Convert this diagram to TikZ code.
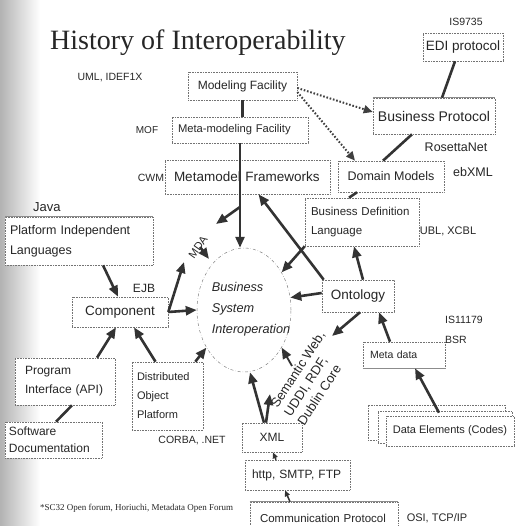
\documentclass[tikz,border=0pt]{standalone}
\usepackage{fontspec}
\setmainfont{Liberation Serif}
\setsansfont{Liberation Sans}
\usetikzlibrary{arrows.meta,shapes.geometric}
\newcommand{\fs}[2]{\fontsize{#1}{#2}\selectfont}
\begin{document}
\begin{tikzpicture}[x=1pt,y=-1pt,
  every node/.style={font=\sffamily, text=black!85},
  box/.style={draw=black!55, densely dotted, line width=0.6pt, fill=white, inner sep=0pt},
  lbl/.style={inner sep=0pt, font=\sffamily\fs{10.5}{12}},
  link/.style={draw=black!80, line width=2.6pt, -{Triangle[length=11pt,width=9pt]}},
  smalllink/.style={draw=black!80, line width=1.5pt, -{Triangle[length=6pt,width=5pt]}},
  bar/.style={draw=black!80, line width=2.6pt},
  hint/.style={draw=black!75, line width=2pt, dash pattern=on 1.6pt off 1.8pt, -{Triangle[length=9pt,width=8pt]}},
  edge/.style={draw=black!45, line width=0.8pt}
]
\useasboundingbox (0,0) rectangle (515,526);

% faded strip down the left margin
\shade[left color=black!30, right color=white] (0,0) rectangle (40,526);

% title and footnote
\node[anchor=base west, inner sep=0pt, font=\rmfamily\fs{28}{30}] (title) at (50,50) {History of Interoperability};
\node[anchor=base west, inner sep=0pt, font=\rmfamily\fs{9}{10}] (note) at (40,510) {*SC32 Open forum, Horiuchi, Metadata Open Forum};

% modelling stack
\node[box, minimum width=109, minimum height=28, font=\sffamily\fs{12}{14}] (mf) at (242.5,86) {Modeling Facility};
\node[box, text width=124, inner xsep=6, minimum height=26, align=left, font=\sffamily\fs{11.2}{13}] (mmf) at (240,130) {Meta-modeling Facility};
\node[box, text width=153, inner xsep=6, minimum height=34, align=left, font=\sffamily\fs{13.5}{16}] (mmfw) at (247.5,177) {\hspace*{3pt}Metamodel Frameworks};

% business side
\node[box, minimum width=80, minimum height=28, font=\sffamily\fs{13.5}{15}] (edi) at (463,47) {EDI protocol};
\node[box, minimum width=122, minimum height=36, font=\sffamily\fs{14}{16}] (bp) at (434,116) {Business Protocol};
\node[box, minimum width=106, minimum height=31, font=\sffamily\fs{12.5}{14}] (dm) at (391,176.5) {Domain Models};
\node[box, text width=102, inner xsep=6, minimum height=48, align=left, font=\sffamily\fs{11.5}{19}] (bdl) at (362,222) {Business Definition\\Language};
\node[box, minimum width=72, minimum height=32, font=\sffamily\fs{13.5}{15}] (ont) at (358,296) {Ontology};
\node[box, text width=68, inner xsep=7, minimum height=26, align=left, font=\sffamily\fs{10.5}{12}] (md) at (404,355) {Meta data};
\node[box, minimum width=137, minimum height=35] (de3) at (436.5,422.5) {};
\node[box, minimum width=134, minimum height=32] (de2) at (445,427) {};
\node[box, minimum width=128, minimum height=30, font=\sffamily\fs{11}{13}] (de) at (450,431) {Data Elements (Codes)};

% transport side
\node[box, minimum width=60, minimum height=29, font=\sffamily\fs{12}{14}] (xml) at (272,437.5) {XML};
\node[box, text width=91, inner xsep=7, minimum height=30, align=left, font=\sffamily\fs{12}{14}] (http) at (297.5,475) {http, SMTP, FTP};
\node[box, text width=128, inner xsep=10, minimum height=32, align=left, font=\sffamily\fs{11.5}{13}] (cp) at (324,518) {Communication Protocol};

% component side
\node[box, text width=138, inner xsep=5, minimum height=48, align=left, font=\sffamily\fs{12.5}{20}] (pil) at (79,241) {Platform Independent\\Languages};
\node[box, minimum width=96, minimum height=30, font=\sffamily\fs{13.5}{15}] (comp) at (120,312) {Component};
\node[box, text width=88, inner xsep=6, minimum height=47, align=left, font=\sffamily\fs{12}{19}] (pi) at (65,381.5) {\hspace*{4pt}Program\\\hspace*{4pt}Interface (API)};
\node[box, text width=89, inner xsep=4, minimum height=36, align=left, font=\sffamily\fs{12}{17}] (sd) at (53.5,440) {Software\\Documentation};
\node[box, text width=61, inner xsep=5, minimum height=68, align=left, font=\sffamily\fs{11}{19}] (dop) at (167.5,396) {Distributed\\Object\\Platform};

% solid edges on some boxes
\draw[edge] (bp.north west) -- (bp.north east);
\draw[edge] (md.south west) -- (md.south east);
\draw[edge] (cp.north west) -- (cp.north east);
\draw[edge] (pil.north west) -- (pil.north east);

% the central goal
\node[ellipse, draw=black!50, dash dot, line width=0.5pt, minimum width=94, minimum height=124, inner sep=0pt] (bsi) at (244,310) {};
\node[align=left, inner sep=0pt, font=\sffamily\itshape\fs{12.7}{21}] (bsiText) at (251,309) {Business\\System\\Interoperation};

% side labels
\node[lbl] (uml) at (110,78) {UML, IDEF1X};
\node[lbl, font=\sffamily\fs{10}{12}] (mof) at (147,130) {MOF};
\node[lbl] (cwm) at (151,178) {CWM};
\node[lbl] (is9735) at (466,22) {IS9735};
\node[lbl, font=\sffamily\fs{12.5}{14}] (rosetta) at (456,147) {RosettaNet};
\node[lbl, font=\sffamily\fs{12.5}{14}] (ebxml) at (473,172) {ebXML};
\node[lbl, font=\sffamily\fs{11}{13}] (ubl) at (448,231) {UBL, XCBL};
\node[lbl, anchor=west] (is11179) at (445,320) {IS11179};
\node[lbl, anchor=west] (bsr) at (445,340) {BSR};
\node[lbl, anchor=west, font=\sffamily\fs{13}{15}] (java) at (33,207) {Java};
\node[lbl, font=\sffamily\fs{12}{14}] (ejb) at (144,288) {EJB};
\node[lbl] (corba) at (192,441) {CORBA, .NET};
\node[lbl, font=\sffamily\fs{11}{13}] (osi) at (437,518) {OSI, TCP/IP};
\node[lbl, rotate=55, font=\sffamily\fs{11}{13}] (mda) at (198,247) {MDA};
\node[rotate=57, align=left, inner sep=0pt, font=\sffamily\fs{13}{16}] (sem) at (311,378) {Semantic Web,\\UDDI, RDF,\\Dublin Core};

% free ends of a few connectors
\coordinate (mdaFork) at (240,207);
\coordinate (mdaTip) at (216,224);
\coordinate (mdaUp) at (184,262);
\coordinate (mdaA) at (200,247);
\coordinate (mdaB) at (209,259);
\coordinate (semTip) at (332,336);
\coordinate (semLo) at (270,394);
\coordinate (semHi) at (292,366);

% connectors: modelling stack
\draw[bar] (mf.south) -- (mf.south |- mmf.north);
\draw[link] (mmf.south) -- (mmf.south |- bsi.north);
\draw[link] (mdaFork) -- (mdaTip);
\draw[hint] ([yshift=-2]mf.east) -- ([yshift=4]bp.west);
\draw[hint] ([yshift=-6]mf.east) -- ([xshift=-36]dm.north);

% connectors: business side
\draw[bar] ([xshift=-8]edi.south) -- ([xshift=8]bp.north);
\draw[bar] ([xshift=-22]bp.south) -- ([xshift=-8]dm.north);
\draw[bar] ([xshift=-34]dm.south) -- ([xshift=-13]bdl.north);
\draw[link] ([xshift=2]ont.north west) -- ([xshift=11]mmfw.south);
\draw[link] (bdl.south west) -- (bsi.45);
\draw[link] ([xshift=5]ont.north) -- ([xshift=-8]bdl.south);
\draw[link] ([yshift=3]ont.west) -- (bsi.15);
\draw[link] ([xshift=2]ont.south) -- (semTip);
\draw[link] ([xshift=-14]md.north) -- ([xshift=21]ont.south);
\draw[link] ([xshift=-11,yshift=3]de.north) -- ([xshift=11]md.south);

% connectors: component side
\draw[link] (comp.east) -- (bsi.west);
\draw[link] (comp.east) -- (mdaUp);
\draw[link] (mdaA) -- (mdaB);
\draw[link] ([xshift=24]pil.south) -- ([xshift=-2]comp.north);
\draw[link] ([xshift=32]pi.north) -- ([xshift=-4]comp.south);
\draw[link] ([xshift=-12]dop.north) -- ([xshift=14]comp.south);
\draw[link] ([xshift=-8]dop.north east) -- (bsi.225);
\draw[bar] ([xshift=7]pi.south) -- ([xshift=2.5]sd.north);

% connectors: transport side
\draw[link] ([xshift=-8]xml.north) -- ([xshift=6]bsi.south);
\draw[link] ([xshift=-6]xml.north) -- (semLo);
\draw[link, line width=1.8pt] (semHi) -- (bsi.315);
\draw[smalllink] ([xshift=-21.5]http.north) -- ([xshift=1]xml.south);
\draw[smalllink] ([xshift=-34]cp.north) -- ([xshift=-12.5]http.south);
\end{tikzpicture}
\end{document}
